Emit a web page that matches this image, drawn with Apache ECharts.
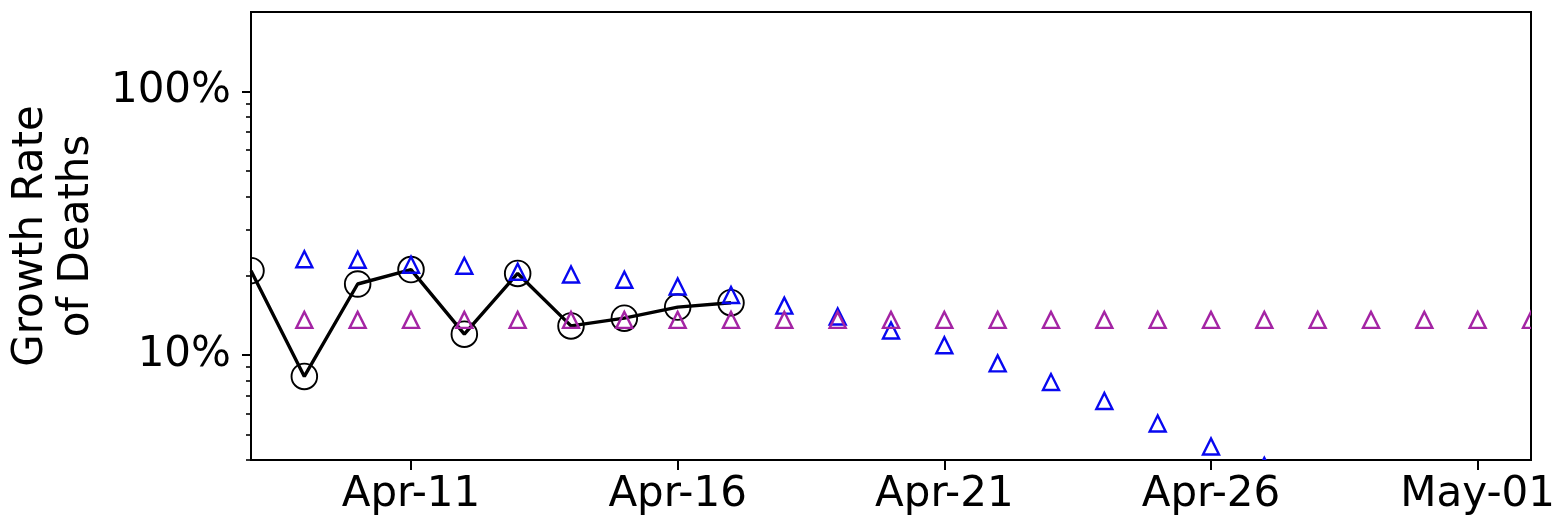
<!DOCTYPE html>
<html>
<head>
<meta charset="utf-8">
<script src="https://cdn.jsdelivr.net/npm/echarts@6/dist/echarts.min.js"></script>
<style>
  html, body { margin: 0; padding: 0; background: #fff; }
  #chart { width: 1555px; height: 522px; }
</style>
</head>
<body>
<div id="chart"></div>
<script>
// Daily dates on the x axis
const dates = [
  'Apr-08', 'Apr-09', 'Apr-10', 'Apr-11', 'Apr-12', 'Apr-13', 'Apr-14', 'Apr-15',
  'Apr-16', 'Apr-17', 'Apr-18', 'Apr-19', 'Apr-20', 'Apr-21', 'Apr-22', 'Apr-23',
  'Apr-24', 'Apr-25', 'Apr-26', 'Apr-27', 'Apr-28', 'Apr-29', 'Apr-30', 'May-01',
  'May-02'
];

// Observed daily growth rate of deaths (Apr-08 .. Apr-17)
const observed = [0.209, 0.083, 0.186, 0.211, 0.120, 0.204, 0.129, 0.138, 0.152, 0.158];

// Declining projection (starts Apr-09)
const declining = [
  null, 0.231, 0.230, 0.220, 0.218, 0.207, 0.202, 0.193, 0.182, 0.169,
  0.154, 0.140, 0.124, 0.109, 0.093, 0.079, 0.067, 0.055, 0.045, 0.038
];

// Constant-rate projection (starts Apr-09)
const constant = [
  null, 0.136, 0.136, 0.136, 0.136, 0.136, 0.136, 0.136, 0.136, 0.136,
  0.136, 0.136, 0.136, 0.136, 0.136, 0.136, 0.136, 0.136, 0.136, 0.136,
  0.136, 0.136, 0.136, 0.136, 0.136
];

// Log-scale tick positions
const yMajorTicks = [0.1, 1];
const yMinorTicks = [0.04, 0.05, 0.06, 0.07, 0.08, 0.09, 0.2, 0.3, 0.4, 0.5, 0.6, 0.7, 0.8, 0.9];
const xLabelEvery = 5;
const xLabelOffset = 3;

const FONT = 'DejaVu Sans';

function toPairs(values) {
  const out = [];
  values.forEach(function (v, i) { if (v != null) out.push([i, v]); });
  return out;
}

// Hollow upward triangle marker
function triangleRenderer(color) {
  return function (params, api) {
    const p = api.coord([api.value(0), api.value(1)]);
    const h = 8;
    return {
      type: 'polygon',
      shape: { points: [[p[0], p[1] - h], [p[0] - h, p[1] + h], [p[0] + h, p[1] + h]] },
      style: { fill: 'none', stroke: color, lineWidth: 2.4, lineJoin: 'miter' }
    };
  };
}

// Hollow circle marker
function circleRenderer(params, api) {
  const p = api.coord([api.value(0), api.value(1)]);
  return {
    type: 'circle',
    shape: { cx: p[0], cy: p[1], r: 12.8 },
    style: { fill: 'none', stroke: '#000', lineWidth: 1.9 }
  };
}

const showEvery = function (i) { return i % xLabelEvery === xLabelOffset; };

const chart = echarts.init(document.getElementById('chart'), null, { renderer: 'canvas' });

chart.setOption({
  animation: false,
  backgroundColor: '#fff',
  grid: {
    left: 251, right: 24, top: 12, bottom: 62,
    show: true, borderColor: '#000', borderWidth: 2,
    outerBoundsMode: 'none'
  },
  xAxis: {
    type: 'category',
    data: dates,
    boundaryGap: false,
    axisLine: { lineStyle: { color: '#000', width: 2 } },
    axisTick: { show: true, interval: showEvery, length: 10, lineStyle: { color: '#000', width: 2 } },
    axisLabel: { interval: showEvery, margin: 14, fontSize: 42, color: '#000', fontFamily: FONT },
    splitLine: { show: false }
  },
  yAxis: [
    {
      type: 'log',
      logBase: 10,
      min: 0.04,
      max: 2,
      position: 'left',
      name: 'Growth Rate\nof Deaths',
      nameLocation: 'middle',
      nameRotate: 90,
      nameGap: 150,
      nameTextStyle: { fontSize: 42, fontFamily: FONT, color: '#000', lineHeight: 46, align: 'center' },
      axisLine: { show: true, lineStyle: { color: '#000', width: 2 } },
      axisTick: { show: true, customValues: yMajorTicks, length: 9, lineStyle: { color: '#000', width: 2 } },
      axisLabel: {
        customValues: yMajorTicks,
        margin: 20,
        fontSize: 42,
        color: '#000',
        fontFamily: FONT,
        formatter: function (v) { return Math.round(v * 100) + '%'; }
      },
      splitLine: { show: false }
    },
    {
      // minor ticks only
      type: 'log',
      logBase: 10,
      min: 0.04,
      max: 2,
      position: 'left',
      offset: 0,
      axisLine: { show: false },
      axisTick: { show: true, customValues: yMinorTicks, length: 5, lineStyle: { color: '#000', width: 1.6 } },
      axisLabel: { show: false },
      splitLine: { show: false }
    }
  ],
  series: [
    {
      type: 'line',
      data: observed,
      symbol: 'none',
      lineStyle: { color: '#000', width: 3.4 },
      clip: true,
      z: 2
    },
    {
      type: 'custom',
      data: toPairs(observed),
      renderItem: circleRenderer,
      encode: { x: 0, y: 1 },
      clip: true,
      z: 3
    },
    {
      type: 'custom',
      data: toPairs(declining),
      renderItem: triangleRenderer('#0808f0'),
      encode: { x: 0, y: 1 },
      clip: true,
      z: 4
    },
    {
      type: 'custom',
      data: toPairs(constant),
      renderItem: triangleRenderer('#a424a4'),
      encode: { x: 0, y: 1 },
      clip: true,
      z: 5
    }
  ]
});
</script>
</body>
</html>
